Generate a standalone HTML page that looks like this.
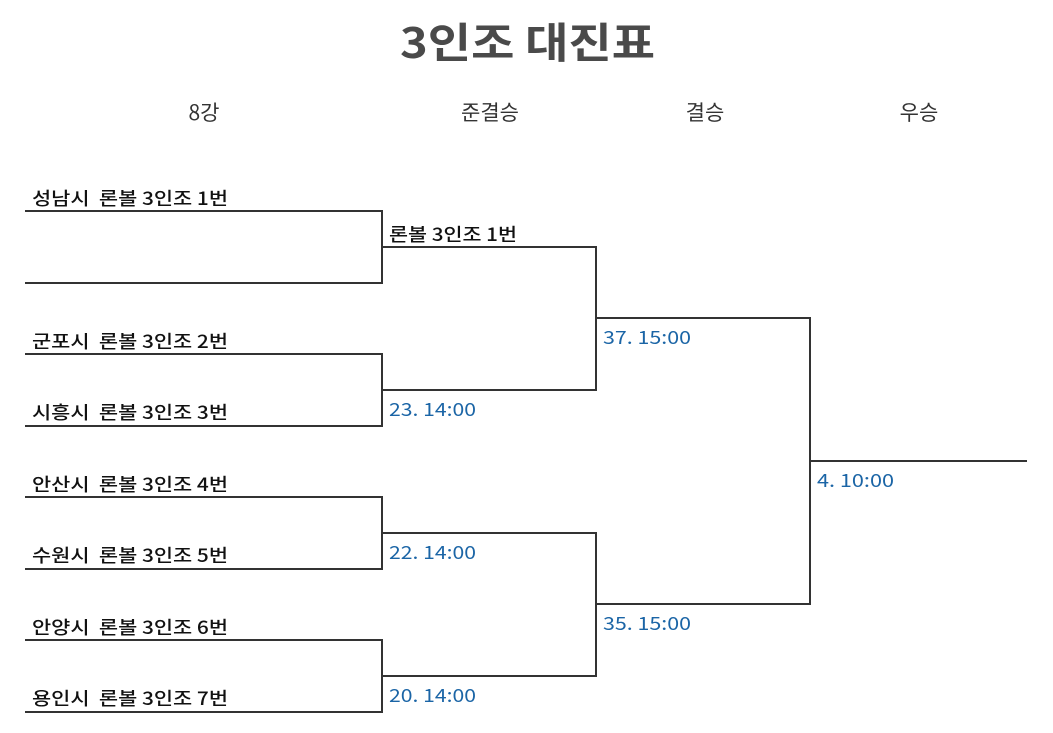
<!DOCTYPE html>
<html><head><meta charset="utf-8"><style>
html,body{margin:0;padding:0;background:#fff;}
svg{display:block}
text{font-family:"Noto Sans CJK KR","Liberation Sans",sans-serif;white-space:pre;}
.n{font-size:18px;fill:#111;font-weight:500;}
.b{font-size:18px;fill:#1b65a6;}
.h{font-size:21px;fill:#333;text-anchor:middle;}
</style></head><body>
<svg width="1053" height="733" viewBox="0 0 1053 733" xmlns="http://www.w3.org/2000/svg" xml:space="preserve">
<text x="400" y="58" textLength="255" lengthAdjust="spacingAndGlyphs" style="font-size:42px;font-weight:bold;fill:#4a4a4a">3인조 대진표</text>
<text class="h" x="204" y="120">8강</text>
<text class="h" x="490" y="120">준결승</text>
<text class="h" x="705" y="120">결승</text>
<text class="h" x="919" y="120">우승</text>
<g stroke="#333" stroke-width="2" fill="none">
<path d="M25 211H382V283H25"/>
<path d="M25 354H382V426H25"/>
<path d="M25 497H382V569H25"/>
<path d="M25 640H382V712H25"/>
<path d="M382 247H596V390H382"/>
<path d="M382 533H596V676H382"/>
<path d="M596 318H810V604H596"/>
<path d="M810 461H1027"/>
</g>
<g class="n">
<text class="n" x="32" y="205" textLength="196" lengthAdjust="spacingAndGlyphs">성남시  론볼 3인조 1번</text>
<text class="n" x="32" y="348" textLength="196" lengthAdjust="spacingAndGlyphs">군포시  론볼 3인조 2번</text>
<text class="n" x="32" y="419" textLength="196" lengthAdjust="spacingAndGlyphs">시흥시  론볼 3인조 3번</text>
<text class="n" x="32" y="491" textLength="196" lengthAdjust="spacingAndGlyphs">안산시  론볼 3인조 4번</text>
<text class="n" x="32" y="562" textLength="196" lengthAdjust="spacingAndGlyphs">수원시  론볼 3인조 5번</text>
<text class="n" x="32" y="634" textLength="196" lengthAdjust="spacingAndGlyphs">안양시  론볼 3인조 6번</text>
<text class="n" x="32" y="705" textLength="196" lengthAdjust="spacingAndGlyphs">용인시  론볼 3인조 7번</text>
<text class="n" x="389" y="241" textLength="128" lengthAdjust="spacingAndGlyphs">론볼 3인조 1번</text>
</g>
<text class="b" x="389" y="416" textLength="87" lengthAdjust="spacingAndGlyphs">23. 14:00</text>
<text class="b" x="389" y="559" textLength="87" lengthAdjust="spacingAndGlyphs">22. 14:00</text>
<text class="b" x="389" y="702" textLength="87" lengthAdjust="spacingAndGlyphs">20. 14:00</text>
<text class="b" x="603" y="344" textLength="88" lengthAdjust="spacingAndGlyphs">37. 15:00</text>
<text class="b" x="603" y="630" textLength="88" lengthAdjust="spacingAndGlyphs">35. 15:00</text>
<text class="b" x="817" y="487" textLength="77" lengthAdjust="spacingAndGlyphs">4. 10:00</text>
</svg>
</body></html>
